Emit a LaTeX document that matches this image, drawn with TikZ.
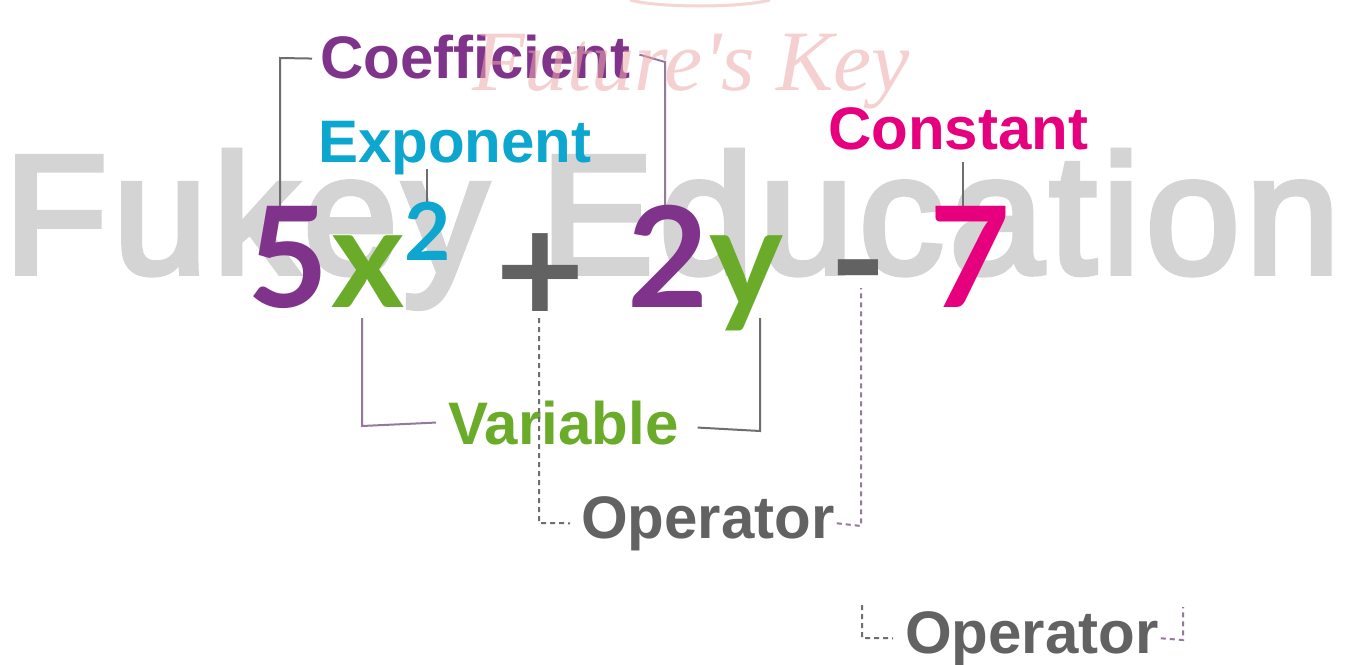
\documentclass[tikz,border=0pt]{standalone}
\usepackage{fontspec}
\usetikzlibrary{calc}
\setmainfont{Liberation Sans}
\newfontfamily\lblf{Liberation Sans}
\newfontfamily\eqf{Lato}
\newfontfamily\wmf{Liberation Sans}[LetterSpace=3.5,FakeBold=3.5]
\newfontfamily\scriptf{Liberation Serif}
\definecolor{cpurple}{RGB}{128,51,138}
\definecolor{cgreen}{RGB}{106,172,42}
\definecolor{ccyan}{RGB}{12,166,206}
\definecolor{cpink}{RGB}{230,0,126}
\definecolor{cgray}{RGB}{98,98,98}
\definecolor{lgray}{RGB}{110,110,110}
\definecolor{lpurp}{RGB}{150,120,155}
\definecolor{wmpink}{RGB}{236,170,170}
\definecolor{wmgray}{RGB}{212,212,212}
\tikzset{
  lbl/.style={inner sep=0pt, font=\lblf\bfseries\fontsize{60}{60}\selectfont},
  eqc/.style={inner sep=0pt, font=\eqf\bfseries\fontsize{140}{140}\selectfont},
  eqop/.style={inner sep=0pt, font=\eqf\bfseries\fontsize{155}{155}\selectfont},
  eqsup/.style={inner sep=0pt, font=\eqf\bfseries\fontsize{80}{80}\selectfont},
  ln/.style={line width=2pt, lgray},
  lnp/.style={line width=2pt, lpurp},
  dln/.style={line width=2pt, lgray, dash pattern=on 5pt off 4pt},
  dlnp/.style={line width=2pt, lpurp, dash pattern=on 5pt off 4pt},
}
\begin{document}
\begin{tikzpicture}[x=1pt,y=-1pt]
\fill[white] (0,0) rectangle (1362,664);
\useasboundingbox (0,0) rectangle (1362,664);
% watermark (behind)
\node[inner sep=0pt, anchor=base west, text=wmgray, font=\wmf\fontsize{169}{169}\selectfont] (wm) at (4,273) {Fukey Education};
% faint logo arc
\draw[wmpink, opacity=0.5, line width=3pt] (630,0) .. controls (660,8) and (740,8) .. (770,0);
% labels
\node[lbl, text=cpurple, anchor=base west] (coef) at (320,78) {Coefficient};
\node[lbl, text=ccyan, anchor=base west] (expo) at (318,162) {Exponent};
\node[lbl, text=cpink, anchor=base west] (const) at (828,149) {Constant};
\node[lbl, text=cgreen, anchor=base west] (var) at (448,444) {Variable};
\node[lbl, text=cgray, anchor=base west] (op1) at (581,538) {Operator};
\node[lbl, text=cgray, anchor=base west] (op2) at (905,653) {Operator};
% equation glyphs (positions)
\coordinate (p5) at (288,307);
\coordinate (px) at (368,307);
\coordinate (psup) at (428,260);
\coordinate (pplus) at (540,324);
\coordinate (p2) at (668,307);
\coordinate (py) at (746,307);
\coordinate (pminus) at (858,314);
\coordinate (p7) at (970,307);
% bends of the connectors
\coordinate (c1) at (280,58);
\coordinate (c1e) at (280,207);
\coordinate (c2) at (665,62);
\coordinate (c2e) at (665,205);
\coordinate (c3a) at (427,169);
\coordinate (c3e) at (427,202);
\coordinate (c4a) at (963,162);
\coordinate (c4e) at (963,215);
\coordinate (c5a) at (362,318);
\coordinate (c5) at (362,426);
\coordinate (c6a) at (760,318);
\coordinate (c6) at (760,431);
\coordinate (c7a) at (539,318);
\coordinate (c7) at (539,523);
\coordinate (c8a) at (861,288);
\coordinate (c8) at (861,526);
\coordinate (c9a) at (862,605);
\coordinate (c9) at (862,638);
\coordinate (c10a) at (1183,607);
\coordinate (c10) at (1183,640);
% connectors
\draw[ln] ($(coef.west)+(-8,2)$) -- (c1) -- (c1e);
\draw[lnp] ($(coef.east)+(9,-2)$) -- (c2) -- (c2e);
\draw[ln] (c3a) -- (c3e);
\draw[ln] (c4a) -- (c4e);
\draw[lnp] (c5a) -- (c5) -- ($(var.west)+(-12,0)$);
\draw[ln] ($(var.east)+(19,5)$) -- (c6) -- (c6a);
\draw[dln] (c7a) -- (c7) -- ($(op1.west)+(-11,0)$);
\draw[dlnp] ($(op1.east)+(2,0)$) -- (c8) -- (c8a);
\draw[dln] (c9a) -- (c9) -- ($(op2.west)+(-12,0)$);
\draw[dlnp] ($(op2.east)+(2,0)$) -- (c10) -- (c10a);
% equation
\node[eqc, text=cpurple, anchor=base] (five) at (p5) {5};
\node[eqc, text=cgreen, anchor=base] (xv) at (px) {x};
\node[eqsup, text=ccyan, anchor=base] (sup) at (psup) {2};
\node[eqop, text=cgray, anchor=base] (plus) at (pplus) {+};
\node[eqc, text=cpurple, anchor=base] (two) at (p2) {2};
\node[eqc, text=cgreen, anchor=base] (yv) at (py) {y};
\node[eqop, text=cgray, anchor=base] (minus) at (pminus) {-};
\node[eqc, text=cpink, anchor=base] (seven) at (p7) {7};
% script watermark (over)
\node[inner sep=0pt, anchor=base west, text=wmpink, text opacity=0.55, font=\scriptf\itshape\fontsize{86}{86}\selectfont] (wm2) at (472,90) {Future's Key};
\end{tikzpicture}
\end{document}
